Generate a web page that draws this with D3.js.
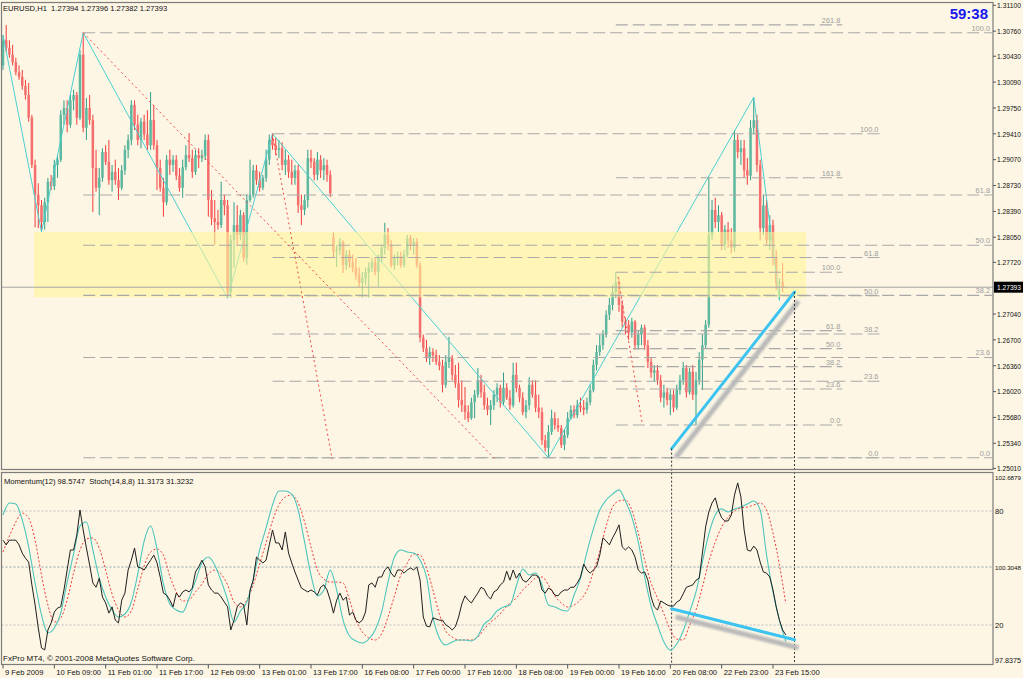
<!DOCTYPE html>
<html><head><meta charset="utf-8">
<script src="https://cdn.jsdelivr.net/npm/d3@7"></script>
<style>
body{margin:0;background:#fdf6e4;}
svg{display:block;font-family:"Liberation Sans",Arial,sans-serif;}
text{white-space:pre;}
</style>
</head><body>
<svg id="c" width="1023" height="678"></svg>
<script>
// ---------- DATA (EURUSD H1) ----------
const opens=[1.3031,1.3064,1.3054,1.3045,1.3035,1.3022,1.3016,1.3004,1.2992,1.2962,
1.2900,1.2861,1.2847,1.2825,1.2851,1.2878,1.2872,1.2900,1.2907,1.2966,
1.2975,1.2953,1.2985,1.2992,1.2962,1.3045,1.2949,1.2975,1.2959,1.2896,
1.2870,1.2883,1.2917,1.2904,1.2880,1.2891,1.2880,1.2870,1.2893,1.2920,
1.2933,1.2979,1.2953,1.2933,1.2957,1.2940,1.2926,1.2959,1.2926,1.2896,
1.2870,1.2851,1.2907,1.2900,1.2907,1.2886,1.2870,1.2897,1.2913,1.2909,
1.2891,1.2913,1.2909,1.2912,1.2933,1.2854,1.2830,1.2825,1.2821,1.2854,
1.2847,1.2733,1.2801,1.2821,1.2808,1.2834,1.2778,1.2854,1.2861,1.2893,
1.2880,1.2870,1.2883,1.2907,1.2933,1.2926,1.2920,1.2922,1.2900,1.2907,
1.2891,1.2883,1.2893,1.2847,1.2841,1.2854,1.2909,1.2904,1.2887,1.2907,
1.2893,1.2900,1.2887,1.2805,1.2786,1.2788,1.2799,1.2768,1.2782,1.2772,
1.2765,1.2755,1.2745,1.2751,1.2759,1.2765,1.2772,1.2759,1.2778,1.2791,
1.2808,1.2795,1.2768,1.2778,1.2780,1.2768,1.2782,1.2804,1.2795,1.2799,
1.2768,1.2673,1.2659,1.2646,1.2654,1.2650,1.2641,1.2636,1.2611,1.2641,
1.2646,1.2624,1.2613,1.2591,1.2584,1.2575,1.2567,1.2588,1.2598,1.2617,
1.2601,1.2584,1.2578,1.2584,1.2598,1.2607,1.2588,1.2607,1.2594,1.2584,
1.2624,1.2607,1.2594,1.2575,1.2584,1.2611,1.2598,1.2581,1.2575,1.2538,
1.2528,1.2549,1.2567,1.2558,1.2554,1.2532,1.2545,1.2567,1.2578,1.2571,
1.2584,1.2581,1.2578,1.2588,1.2604,1.2637,1.2654,1.2663,1.2677,1.2703,
1.2716,1.2733,1.2746,1.2716,1.2694,1.2690,1.2680,1.2694,1.2663,1.2677,
1.2686,1.2663,1.2641,1.2627,1.2630,1.2617,1.2594,1.2601,1.2591,1.2598,
1.2581,1.2604,1.2617,1.2633,1.2601,1.2628,1.2598,1.2617,1.2644,1.2663,
1.2690,1.2808,1.2841,1.2825,1.2834,1.2795,1.2815,1.2801,1.2791,1.2933,
1.2917,1.2922,1.2893,1.2886,1.2949,1.2959,1.2900,1.2817,1.2847,1.2801,
1.2821,1.2778,1.2745,1.2746,1.27394];
const highs=[1.3071,1.3084,1.3064,1.3058,1.3041,1.3031,1.3025,1.3012,1.3008,1.2966,
1.2907,1.2876,1.2854,1.2857,1.2883,1.2887,1.2907,1.2913,1.2972,1.2985,
1.2985,1.2992,1.2999,1.2996,1.3051,1.3074,1.2988,1.2992,1.2966,1.2920,
1.2896,1.2922,1.2926,1.2933,1.2900,1.2907,1.2896,1.2900,1.2926,1.2940,
1.2985,1.2985,1.2966,1.2962,1.2966,1.2972,1.2996,1.2979,1.2933,1.2907,
1.2883,1.2913,1.2920,1.2913,1.2913,1.2896,1.2907,1.2926,1.2942,1.2920,
1.2920,1.2922,1.2920,1.2940,1.2940,1.2867,1.2854,1.2841,1.2878,1.2861,
1.2854,1.2808,1.2851,1.2847,1.2841,1.2838,1.2861,1.2907,1.2900,1.2900,
1.2891,1.2887,1.2920,1.2940,1.2941,1.2936,1.2933,1.2930,1.2920,1.2913,
1.2907,1.2900,1.2900,1.2861,1.2861,1.2920,1.2920,1.2909,1.2917,1.2913,
1.2909,1.2907,1.2893,1.2811,1.2795,1.2804,1.2801,1.2788,1.2788,1.2782,
1.2778,1.2765,1.2759,1.2765,1.2772,1.2778,1.2778,1.2782,1.2795,1.2824,
1.2817,1.2801,1.2782,1.2786,1.2786,1.2788,1.2808,1.2808,1.2804,1.2804,
1.2772,1.2677,1.2670,1.2661,1.2659,1.2657,1.2650,1.2644,1.2650,1.2674,
1.2650,1.2637,1.2640,1.2617,1.2608,1.2584,1.2594,1.2604,1.2633,1.2624,
1.2611,1.2594,1.2591,1.2604,1.2613,1.2611,1.2627,1.2613,1.2604,1.2640,
1.2640,1.2611,1.2601,1.2591,1.2621,1.2617,1.2617,1.2598,1.2581,1.2545,
1.2558,1.2578,1.2575,1.2567,1.2558,1.2552,1.2575,1.2584,1.2584,1.2591,
1.2594,1.2591,1.2594,1.2611,1.2644,1.2663,1.2677,1.2683,1.2709,1.2725,
1.2742,1.2759,1.2751,1.2722,1.2699,1.2696,1.2699,1.2696,1.2683,1.2690,
1.2690,1.2670,1.2646,1.2637,1.2637,1.2624,1.2611,1.2607,1.2604,1.2604,
1.2611,1.2624,1.2641,1.2637,1.2633,1.2637,1.2628,1.2654,1.2677,1.2696,
1.2884,1.2854,1.2857,1.2847,1.2838,1.2821,1.2825,1.2817,1.2946,1.2940,
1.2933,1.2933,1.2909,1.2959,1.2989,1.2966,1.2907,1.2861,1.2854,1.2834,
1.2828,1.2788,1.2751,1.2771,1.27396];
const lows=[1.3025,1.3049,1.3041,1.3031,1.3018,1.3012,1.2999,1.2986,1.2957,1.2896,
1.2818,1.2817,1.2812,1.2815,1.2825,1.2867,1.2867,1.2883,1.2904,1.2953,
1.2943,1.2949,1.2972,1.2953,1.2959,1.2943,1.2933,1.2953,1.2838,1.2865,
1.2834,1.2878,1.2900,1.2874,1.2865,1.2874,1.2854,1.2867,1.2887,1.2909,
1.2926,1.2946,1.2926,1.2922,1.2933,1.2920,1.2920,1.2920,1.2867,1.2865,
1.2832,1.2847,1.2887,1.2891,1.2880,1.2865,1.2857,1.2893,1.2904,1.2883,
1.2887,1.2896,1.2904,1.2907,1.2832,1.2821,1.2795,1.2815,1.2817,1.2834,
1.2725,1.2726,1.2765,1.2795,1.2801,1.2773,1.2769,1.2851,1.2857,1.2874,
1.2865,1.2867,1.2878,1.2900,1.2920,1.2913,1.2909,1.2893,1.2887,1.2883,
1.2874,1.2874,1.2837,1.2821,1.2834,1.2844,1.2896,1.2880,1.2880,1.2883,
1.2880,1.2878,1.2858,1.2779,1.2766,1.2782,1.2758,1.2762,1.2765,1.2759,
1.2749,1.2740,1.2726,1.2742,1.2726,1.2759,1.2755,1.2740,1.2772,1.2782,
1.2788,1.2765,1.2762,1.2768,1.2765,1.2765,1.2778,1.2788,1.2782,1.2765,
1.2667,1.2654,1.2641,1.2637,1.2641,1.2637,1.2630,1.2601,1.2607,1.2633,
1.2617,1.2607,1.2581,1.2575,1.2565,1.2562,1.2565,1.2567,1.2594,1.2594,
1.2578,1.2571,1.2558,1.2578,1.2588,1.2581,1.2584,1.2591,1.2578,1.2581,
1.2601,1.2588,1.2571,1.2567,1.2578,1.2594,1.2575,1.2567,1.2532,1.2523,
1.2515,1.2545,1.2552,1.2549,1.2528,1.2525,1.2541,1.2565,1.2567,1.2567,
1.2575,1.2571,1.2573,1.2584,1.2601,1.2630,1.2649,1.2657,1.2673,1.2696,
1.2709,1.2725,1.2707,1.2686,1.2677,1.2670,1.2673,1.2657,1.2657,1.2663,
1.2657,1.2633,1.2620,1.2615,1.2611,1.2588,1.2581,1.2584,1.2571,1.2575,
1.2578,1.2598,1.2611,1.2594,1.2598,1.2591,1.2558,1.2611,1.2604,1.2659,
1.2686,1.2801,1.2817,1.2812,1.2788,1.2788,1.2791,1.2784,1.2786,1.2909,
1.2900,1.2883,1.2874,1.2880,1.2940,1.2891,1.2801,1.2808,1.2795,1.2788,
1.2768,1.2736,1.2722,1.2733,1.27382];
const closes=[1.3064,1.3054,1.3045,1.3035,1.3022,1.3016,1.3004,1.2992,1.2962,1.2900,
1.2861,1.2847,1.2825,1.2851,1.2878,1.2872,1.2900,1.2907,1.2966,1.2975,
1.2953,1.2985,1.2992,1.2962,1.3045,1.2949,1.2975,1.2959,1.2896,1.2870,
1.2883,1.2917,1.2904,1.2880,1.2891,1.2880,1.2870,1.2893,1.2920,1.2933,
1.2979,1.2953,1.2933,1.2957,1.2940,1.2926,1.2959,1.2926,1.2896,1.2870,
1.2851,1.2907,1.2900,1.2907,1.2886,1.2870,1.2897,1.2913,1.2909,1.2891,
1.2913,1.2909,1.2912,1.2933,1.2854,1.2830,1.2825,1.2821,1.2854,1.2847,
1.2733,1.2801,1.2821,1.2808,1.2834,1.2778,1.2854,1.2861,1.2893,1.2880,
1.2870,1.2883,1.2907,1.2933,1.2926,1.2920,1.2922,1.2900,1.2907,1.2891,
1.2883,1.2893,1.2847,1.2841,1.2854,1.2909,1.2904,1.2887,1.2907,1.2893,
1.2900,1.2887,1.2863,1.2786,1.2788,1.2799,1.2768,1.2782,1.2772,1.2765,
1.2755,1.2745,1.2751,1.2759,1.2765,1.2772,1.2759,1.2778,1.2791,1.2808,
1.2795,1.2768,1.2778,1.2780,1.2768,1.2782,1.2804,1.2795,1.2799,1.2768,
1.2673,1.2659,1.2646,1.2654,1.2650,1.2641,1.2636,1.2611,1.2641,1.2646,
1.2624,1.2613,1.2591,1.2584,1.2575,1.2567,1.2588,1.2598,1.2617,1.2601,
1.2584,1.2578,1.2584,1.2598,1.2607,1.2588,1.2607,1.2594,1.2584,1.2624,
1.2607,1.2594,1.2575,1.2584,1.2611,1.2598,1.2581,1.2575,1.2538,1.2528,
1.2549,1.2567,1.2558,1.2554,1.2532,1.2545,1.2567,1.2578,1.2571,1.2584,
1.2581,1.2578,1.2588,1.2604,1.2637,1.2654,1.2663,1.2677,1.2703,1.2716,
1.2733,1.2746,1.2716,1.2694,1.2690,1.2680,1.2694,1.2663,1.2677,1.2686,
1.2663,1.2641,1.2627,1.2630,1.2617,1.2594,1.2601,1.2591,1.2598,1.2581,
1.2604,1.2617,1.2633,1.2601,1.2628,1.2598,1.2617,1.2644,1.2663,1.2690,
1.2808,1.2841,1.2825,1.2834,1.2795,1.2815,1.2801,1.2791,1.2933,1.2917,
1.2922,1.2893,1.2886,1.2949,1.2959,1.2900,1.2817,1.2847,1.2801,1.2821,
1.2778,1.2745,1.2746,1.2739,1.27393];

// Momentum(12), one value per bar
const momentum=[100.99,100.87,100.99,100.99,100.99,100.87,100.66,100.53,100.43,99.85,
99.34,98.75,98.24,98.19,98.70,98.88,99.16,99.26,99.29,99.72,
100.23,100.74,100.74,101.12,101.76,101.25,100.79,100.36,99.90,99.79,
100.02,99.54,99.39,99.13,99.29,98.95,98.88,99.46,99.64,100.23,
100.48,100.79,100.31,100.28,100.23,100.36,100.48,100.61,100.41,100.05,
99.64,99.59,99.46,99.29,99.64,99.54,99.67,99.72,99.67,99.77,
100.18,100.31,100.48,100.31,99.85,99.72,99.64,99.64,99.54,99.41,
99.29,98.70,98.95,99.29,99.39,99.34,98.83,99.72,99.97,100.56,
100.48,100.41,100.48,100.87,101.25,100.92,100.92,100.74,101.20,100.66,
100.41,100.18,99.97,99.77,99.72,99.67,99.72,99.67,99.59,99.79,
99.85,99.72,99.46,99.13,99.46,99.64,99.46,99.54,99.08,99.16,
98.95,98.88,98.95,99.16,99.85,99.90,99.79,100.05,100.05,100.23,
100.31,100.15,100.05,100.23,100.23,100.15,100.23,100.28,100.23,100.31,
99.97,99.03,98.80,98.78,99.01,98.98,98.95,98.95,98.83,98.78,
98.70,98.78,99.03,99.36,99.57,99.46,99.39,99.52,99.64,99.79,
99.74,99.57,99.49,99.67,99.72,99.85,99.92,100.20,99.97,100.23,
100.02,100.15,99.97,99.92,100.00,100.10,100.10,100.05,99.72,99.64,
99.77,99.72,99.59,99.57,99.67,99.72,99.72,99.79,99.79,99.90,
100.05,100.38,100.23,100.15,100.23,100.31,100.61,101.05,100.97,100.87,
101.05,101.20,101.38,100.82,100.74,100.82,100.74,100.56,100.23,100.15,
100.18,99.97,99.54,99.29,99.21,99.44,99.39,99.34,99.31,99.31,
99.41,99.46,99.62,99.79,99.82,99.85,99.97,100.02,100.66,101.33,
101.71,101.94,102.07,101.76,101.56,101.48,101.48,101.63,102.14,102.45,
102.09,101.25,100.74,100.71,100.84,100.74,100.43,100.18,100.15,100.05,
99.72,99.29,98.95,98.70,98.5747];

// Stochastic(14,8,8), read every 2nd bar
const stochStep=2;
const stochMain=[77.9,84.2,83.7,75.3,61.1,42.1,25.3,15.8,18.4,26.3,
42.6,57.4,72.1,74.2,59.5,44.7,34.7,27.9,24.2,25.8,
32.1,46.8,64.2,72.1,60.0,41.6,31.1,27.9,26.8,34.2,
43.2,52.6,55.8,51.6,43.2,33.2,21.6,27.4,32.1,44.2,
59.5,71.1,83.2,90.5,90.5,88.9,80.5,63.7,46.3,35.3,
38.4,48.9,38.4,22.6,14.2,11.6,10.5,12.6,17.4,26.8,
42.6,55.8,59.5,58.4,57.9,54.2,45.3,24.2,13.2,9.5,
11.1,12.1,12.1,11.6,14.2,20.5,23.2,27.4,29.5,30.5,
40.5,49.5,46.3,47.4,41.1,30.5,29.5,27.9,27.4,35.8,
44.7,58.4,70.5,80.5,85.8,88.9,91.1,85.3,76.8,63.7,
45.3,30.0,20.0,11.1,6.8,10.0,16.8,26.8,37.4,53.2,
67.9,77.9,81.1,79.5,81.1,82.1,83.7,85.3,80.5,56.8,
37.4,22.6,11.3173];
const stochSignal=[58.4,66.8,74.2,78.9,76.3,64.7,46.3,30.5,21.6,23.7,
33.2,47.4,59.5,65.3,65.8,60.5,48.9,36.3,27.9,24.2,
27.4,38.9,51.1,58.4,60.0,56.8,45.8,37.4,32.6,33.2,
37.4,41.6,46.8,48.9,46.8,41.1,32.1,29.5,33.2,41.1,
52.1,63.2,74.7,83.2,87.4,88.4,84.2,74.2,61.1,48.9,
44.2,42.6,42.6,42.1,33.2,22.6,16.3,13.2,12.1,15.3,
24.2,35.3,46.3,52.6,57.4,56.8,50.0,38.4,25.8,16.8,
13.7,12.1,12.1,12.1,13.7,17.9,21.6,24.2,27.9,31.6,
34.2,38.4,41.6,44.7,45.3,41.1,35.3,31.6,29.5,30.5,
33.2,38.4,47.9,58.9,72.1,82.1,85.3,85.8,80.5,68.4,
54.2,42.1,34.2,25.8,17.4,12.6,12.1,20.0,27.9,40.0,
53.2,63.7,71.6,76.8,80.0,81.6,82.1,83.2,84.2,80.5,
68.4,51.6,31.3232];

const timeLabels=["9 Feb 2009","10 Feb 09:00","11 Feb 01:00","11 Feb 17:00","12 Feb 09:00","13 Feb 01:00","13 Feb 17:00","16 Feb 08:00","17 Feb 00:00","17 Feb 16:00","18 Feb 08:00","19 Feb 00:00","19 Feb 16:00","20 Feb 08:00","22 Feb 23:00","23 Feb 15:00"];
const timeLabelEvery=16;
const priceTicks=[1.31100,1.30760,1.30430,1.30090,1.29750,1.29410,1.29070,1.28730,1.28390,1.28050,1.27720,1.27040,1.26700,1.26360,1.26020,1.25680,1.25340,1.25010];
const currentPrice=1.27393;
const momentumAxis=[102.6879,100.3048,97.8375];
const stochLevels=[80,20];

// ZigZag vertices
const zigzagBars=[0,12,25,70,84,170,234,242];
const zigzagPrices=[1.3071,1.2812,1.3074,1.2725,1.2941,1.2515,1.2989,1.2722];

// Fibonacci retracements
const fibLevels=[0,23.6,38.2,50,61.8,100];
const fibExtLevels=[0,23.6,38.2,50,61.8,100,161.8,261.8];
const fibs=[
  {startBar:25, endBar:null, p0:1.2515, p100:1.3074, levels:fibLevels},
  {startBar:84, endBar:273.5, p0:1.2515, p100:1.2941, levels:fibLevels},
  {startBar:191, endBar:261.6, p0:1.2558, p100:1.2759, levels:fibExtLevels}
];
// red dotted trend lines [bar1, price1, bar2, price2]
const redLines=[[25,1.3074,153.4,1.2513],[84,1.2941,102.6,1.2513],[191.7,1.2753,199.2,1.2561]];
// yellow zone [barFrom, barTo, priceTop, priceBottom]
const zone=[9.7,250.3,1.2812,1.2726];
// blue trend lines
const blueMain=[208.4,1.2527,246.7,1.2733];
const blueInd=[208.4,99.24,246.7,98.45];

// ---------- DRAW ----------
const W=1023,H=678;
const svg=d3.select("#c");
svg.append("rect").attr("width",W).attr("height",H).attr("fill","#fdf6e4");

const L=1.5,R=993,T=2.5,B=469.5,IT=472.5,IB=664.5;
const x=d3.scaleLinear().domain([0,240]).range([3,773]);
const y=d3.scaleLinear().domain([1.25010,1.31100]).range([468.4,5.3]);
const yM=d3.scaleLinear().domain([97.8375,102.6879]).range([663.8,473.6]);
const yS=d3.scaleLinear().domain([0,100]).range([663,473]);

const defs=svg.append("defs");
defs.append("clipPath").attr("id","cm").append("rect").attr("x",L).attr("y",T).attr("width",R-L).attr("height",B-T);
defs.append("clipPath").attr("id","ci").append("rect").attr("x",L).attr("y",IT).attr("width",R-L).attr("height",IB-IT);
const f=defs.append("filter").attr("id","blur").attr("x","-20%").attr("y","-20%").attr("width","140%").attr("height","140%");
f.append("feGaussianBlur").attr("stdDeviation",1.3);

const gm=svg.append("g").attr("clip-path","url(#cm)");
const bars=d3.range(closes.length);
const up=i=>closes[i]>=opens[i];

// candles
gm.append("g").selectAll("line").data(bars).join("line")
  .attr("x1",i=>x(i)).attr("x2",i=>x(i))
  .attr("y1",i=>y(highs[i])).attr("y2",i=>y(lows[i]))
  .attr("stroke",i=>up(i)?"#2f9e89":"#f23c3c").attr("stroke-width",1);
gm.append("g").selectAll("rect").data(bars).join("rect")
  .attr("x",i=>x(i)-1.25).attr("width",2.5)
  .attr("y",i=>y(Math.max(opens[i],closes[i])))
  .attr("height",i=>Math.max(1,Math.abs(y(opens[i])-y(closes[i]))))
  .attr("fill",i=>up(i)?"#5cb89f":"#f56e6e");

// zigzag
const zz=zigzagBars.map((b,k)=>[b,zigzagPrices[k]]);
gm.append("path").datum(zz).attr("d",d3.line().x(d=>x(d[0])).y(d=>y(d[1])))
  .attr("fill","none").attr("stroke","#4ccfd2").attr("stroke-width",1);

// yellow zone
gm.append("rect").attr("x",x(zone[0])).attr("width",x(zone[1])-x(zone[0]))
  .attr("y",y(zone[2])).attr("height",y(zone[3])-y(zone[2]))
  .attr("fill","#fff59a").attr("opacity",0.6);

// fibs
fibs.forEach(fb=>{
  const x1=x(fb.startBar), x2=fb.endBar==null?R-1:x(fb.endBar);
  fb.levels.forEach(l=>{
    const yy=y(fb.p0+(fb.p100-fb.p0)*l/100);
    gm.append("line").attr("x1",x1).attr("x2",x2).attr("y1",yy).attr("y2",yy)
      .attr("stroke","#a9a9a9").attr("stroke-width",1.1).attr("stroke-dasharray","12,5");
    gm.append("text").attr("x",x2-2).attr("y",yy-2).attr("text-anchor","end")
      .attr("font-size",7.4).attr("fill","#9c9c9c").text(l.toFixed(1));
  });
});

// red dotted lines
redLines.forEach(r=>{
  gm.append("line").attr("x1",x(r[0])).attr("y1",y(r[1])).attr("x2",x(r[2])).attr("y2",y(r[3]))
    .attr("stroke","#f04848").attr("stroke-width",1).attr("stroke-dasharray","2,3");
});

// current price line
gm.append("line").attr("x1",L).attr("x2",R).attr("y1",y(currentPrice)).attr("y2",y(currentPrice))
  .attr("stroke","#a4a4a4").attr("stroke-width",1);

// blue line main with shadow
gm.append("line").attr("x1",x(blueMain[0])).attr("y1",y(blueMain[1])).attr("x2",x(blueMain[2])).attr("y2",y(blueMain[3]))
  .attr("transform","translate(4,9)").attr("stroke","#b9b9b9").attr("stroke-width",5).attr("filter","url(#blur)");
gm.append("line").attr("x1",x(blueMain[0])).attr("y1",y(blueMain[1])).attr("x2",x(blueMain[2])).attr("y2",y(blueMain[3]))
  .attr("stroke","#3cc3f0").attr("stroke-width",3).attr("stroke-linecap","round");

// vertical dotted lines
[[blueMain[0],blueMain[1]],[blueMain[2],blueMain[3]]].forEach(v=>{
  svg.append("line").attr("x1",x(v[0])).attr("x2",x(v[0])).attr("y1",y(v[1])).attr("y2",IB)
    .attr("stroke","#333").attr("stroke-width",1).attr("stroke-dasharray","2,2");
});

// indicator panel
const gi=svg.append("g").attr("clip-path","url(#ci)");
stochLevels.forEach(v=>{
  gi.append("line").attr("x1",L).attr("x2",R).attr("y1",yS(v)).attr("y2",yS(v))
    .attr("stroke","#bdbdbd").attr("stroke-dasharray","2,2");
});
gi.append("line").attr("x1",L).attr("x2",R).attr("y1",yM(momentumAxis[1])).attr("y2",yM(momentumAxis[1]))
  .attr("stroke","#8fa6b4").attr("stroke-dasharray","2,2");

const sLine=d3.line().x((d,k)=>x(k*stochStep)).y(d=>yS(d)).curve(d3.curveMonotoneX);
gi.append("path").datum(stochSignal).attr("d",sLine).attr("fill","none")
  .attr("stroke","#f03a3a").attr("stroke-width",1).attr("stroke-dasharray","2,2");
gi.append("path").datum(stochMain).attr("d",sLine).attr("fill","none")
  .attr("stroke","#4cc6bc").attr("stroke-width",1.1);
gi.append("path").datum(momentum).attr("d",d3.line().x((d,i)=>x(i)).y(d=>yM(d)))
  .attr("fill","none").attr("stroke","#1e1e1e").attr("stroke-width",1);

gi.append("line").attr("x1",x(blueInd[0])).attr("y1",yM(blueInd[1])).attr("x2",x(blueInd[2])).attr("y2",yM(blueInd[3]))
  .attr("transform","translate(4,8)").attr("stroke","#b9b9b9").attr("stroke-width",5).attr("filter","url(#blur)");
gi.append("line").attr("x1",x(blueInd[0])).attr("y1",yM(blueInd[1])).attr("x2",x(blueInd[2])).attr("y2",yM(blueInd[3]))
  .attr("stroke","#3cc3f0").attr("stroke-width",3).attr("stroke-linecap","round");

// borders
svg.append("rect").attr("x",L).attr("y",T).attr("width",R-L).attr("height",B-T)
  .attr("fill","none").attr("stroke","#7c7c7c").attr("stroke-width",1.2);
svg.append("rect").attr("x",L).attr("y",IT).attr("width",R-L).attr("height",IB-IT)
  .attr("fill","none").attr("stroke","#7c7c7c").attr("stroke-width",1.2);

// helper: shrink right-axis texts so they stay inside the page
const fs=7.6;
function fitRight(sel){
  const node=sel.node(); const xx=+sel.attr("x");
  const avail=W-2-xx; const len=node.getComputedTextLength();
  if(len>avail){sel.attr("font-size",(fs*avail/len).toFixed(2));}
  return sel;
}

// price axis
priceTicks.forEach(p=>{
  const yy=y(p);
  svg.append("line").attr("x1",R).attr("x2",R+3).attr("y1",yy).attr("y2",yy).attr("stroke","#555");
  fitRight(svg.append("text").attr("x",R+4).attr("y",yy+2.8).attr("font-size",fs).attr("fill","#111").text(p.toFixed(5)));
});
const cy=y(currentPrice);
svg.append("rect").attr("x",R+1).attr("y",cy-5.5).attr("width",W-R).attr("height",11).attr("fill","#000");
fitRight(svg.append("text").attr("x",R+4).attr("y",cy+2.8).attr("font-size",fs).attr("fill","#fff").text(currentPrice.toFixed(5)));

// indicator axis
const indLab=[[yM(momentumAxis[0])+4,momentumAxis[0].toFixed(4)],
  [yS(stochLevels[0]),String(stochLevels[0])],[yM(momentumAxis[1]),momentumAxis[1].toFixed(4)],
  [yS(stochLevels[1]),String(stochLevels[1])],[yM(momentumAxis[2])-4,momentumAxis[2].toFixed(4)]];
indLab.forEach(d=>{
  fitRight(svg.append("text").attr("x",R+2).attr("y",d[0]+2.8).attr("font-size",fs).attr("fill","#111").text(d[1]));
});

// time axis
timeLabels.forEach((t,k)=>{
  const xx=x(k*timeLabelEvery);
  svg.append("line").attr("x1",xx).attr("x2",xx).attr("y1",IB).attr("y2",IB+4).attr("stroke","#555");
  svg.append("text").attr("x",xx+2).attr("y",675).attr("font-size",fs).attr("fill","#111").text(t);
});

// header / labels
svg.append("text").attr("x",3).attr("y",11).attr("font-size",fs).attr("fill","#111")
  .text("EURUSD,H1  1.27394 1.27396 1.27382 1.27393");
svg.append("text").attr("x",988).attr("y",18.5).attr("text-anchor","end").attr("font-size",15)
  .attr("font-weight","bold").attr("fill","#1818f0").text("59:38");
svg.append("text").attr("x",4).attr("y",484).attr("font-size",fs).attr("fill","#111")
  .text("Momentum(12) "+momentum[momentum.length-1].toFixed(4)+"  Stoch(14,8,8) "+stochMain[stochMain.length-1].toFixed(4)+" "+stochSignal[stochSignal.length-1].toFixed(4));
svg.append("text").attr("x",3).attr("y",661).attr("font-size",8).attr("fill","#111")
  .text("FxPro MT4, © 2001-2008 MetaQuotes Software Corp.");
</script>
</body></html>
